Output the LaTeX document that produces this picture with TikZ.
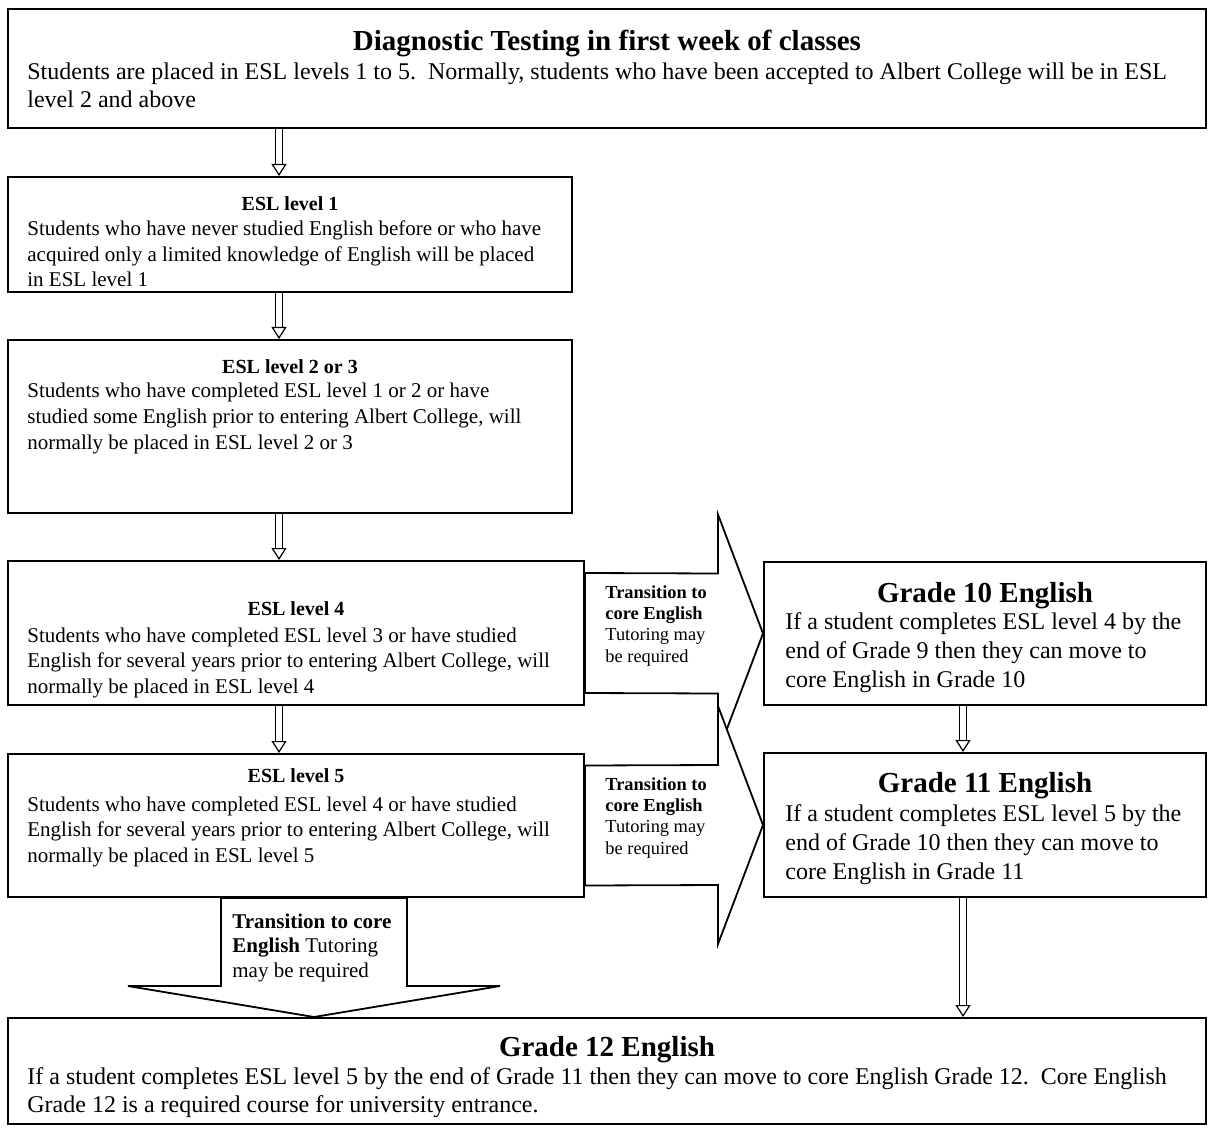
\documentclass[tikz,border=0pt]{standalone}
\usepackage{fontspec}
\setmainfont{Liberation Serif}
\usetikzlibrary{arrows.meta,calc,positioning}

\tikzset{
  box/.style={draw, line width=1pt, inner sep=0pt},
  ttl/.style={font=\fontsize{14.5}{17}\selectfont\bfseries, inner sep=0pt, anchor=base},
  ttlsm/.style={font=\fontsize{10}{12}\selectfont\bfseries, inner sep=0pt, anchor=base},
  txt/.style={font=\fontsize{12}{14}\selectfont, align=left, inner sep=0pt, anchor=base west},
  txtg/.style={font=\fontsize{12}{14.5}\selectfont, align=left, inner sep=0pt, anchor=base west},
  txtsm/.style={font=\fontsize{10.5}{12.75}\selectfont, align=left, inner sep=0pt, anchor=base west},
  lbl/.style={font=\fontsize{9.2}{10.65}\selectfont, align=left, inner sep=0pt, anchor=base west},
  lblbig/.style={font=\fontsize{10.5}{12.25}\selectfont, align=left, inner sep=0pt, anchor=base west},
  dbl/.style={double, double distance=2.6pt, line width=0.6pt, -{Triangle[open,length=6pt,width=7.5pt]}},
  blk/.style={draw, fill=white, line width=0.9pt, line join=miter},
}

\begin{document}
\begin{tikzpicture}[x=0.5pt,y=-0.5pt]
  \useasboundingbox (0,0) rectangle (1213,1133);
  % spines for the connectors
  \coordinate (spine) at (279,0);
  \coordinate (gspine) at (963,0);
  \coordinate (dn) at (314,0);

  % boxes
  \node[box, minimum width=599pt, minimum height=59.5pt] (top) at (607,68.5) {};
  \node[box, minimum width=282pt, minimum height=57.5pt] (esl1) at (290,234.5) {};
  \node[box, minimum width=282pt, minimum height=86.5pt] (esl23) at (290,426.5) {};
  \node[box, minimum width=288pt, minimum height=72pt] (esl4) at (296,633) {};
  \node[box, minimum width=288pt, minimum height=71.5pt] (esl5) at (296,825.5) {};
  \node[box, minimum width=221pt, minimum height=71.5pt] (g10) at (985,633.5) {};
  \node[box, minimum width=221pt, minimum height=72pt] (g11) at (985,825) {};
  \node[box, minimum width=599pt, minimum height=53pt] (g12) at (607,1071) {};

  % texts (multi-line ones sit on their last baseline)
  \node[ttl] (topT) at (607,51) {Diagnostic Testing in first week of classes};
  \node[txt] (topB) at (27,108) {Students are placed in ESL levels 1 to 5.\ \ Normally, students who have been accepted to Albert College will be in ESL\\level 2 and above};
  \node[ttlsm] (esl1T) at (290,211) {ESL level 1};
  \node[txtsm] (esl1B) at (27,287) {Students who have never studied English before or who have\\acquired only a limited knowledge of English will be placed\\in ESL level 1};
  \node[ttlsm] (esl23T) at (290,373) {ESL level 2 or 3};
  \node[txtsm] (esl23B) at (27,449) {Students who have completed ESL level 1 or 2 or have\\studied some English prior to entering Albert College, will\\normally be placed in ESL level 2 or 3};
  \node[ttlsm] (esl4T) at (296,615) {ESL level 4};
  \node[txtsm] (esl4B) at (27,693) {Students who have completed ESL level 3 or have studied\\English for several years prior to entering Albert College, will\\normally be placed in ESL level 4};
  \node[ttlsm] (esl5T) at (296,782) {ESL level 5};
  \node[txtsm] (esl5B) at (27,862) {Students who have completed ESL level 4 or have studied\\English for several years prior to entering Albert College, will\\normally be placed in ESL level 5};
  \node[ttl] (g10T) at (985,602) {Grade 10 English};
  \node[txtg] (g10B) at (785,687) {If a student completes ESL level 4 by the\\end of Grade 9 then they can move to\\core English in Grade 10};
  \node[ttl] (g11T) at (985,792) {Grade 11 English};
  \node[txtg] (g11B) at (785,879) {If a student completes ESL level 5 by the\\end of Grade 10 then they can move to\\core English in Grade 11};
  \node[ttl] (g12T) at (607,1056) {Grade 12 English};
  \node[txt] (g12B) at (27,1112) {If a student completes ESL level 5 by the end of Grade 11 then they can move to core English Grade 12.\ \ Core English\\Grade 12 is a required course for university entrance.};

  % hollow arrows down the two columns
  \draw[dbl] (top.south -| spine) -- (esl1.north -| spine);
  \draw[dbl] (esl1.south -| spine) -- (esl23.north -| spine);
  \draw[dbl] (esl23.south -| spine) -- (esl4.north -| spine);
  \draw[dbl] (esl4.south -| spine) -- (esl5.north -| spine);
  \draw[dbl] (g10.south -| gspine) -- (g11.north -| gspine);
  \draw[dbl] (g11.south -| gspine) -- (g12.north -| gspine);

  % block arrows
  \draw[blk] ($(esl4.east)+(0,-60)$) -- ($(g10.west)+(-45,-60)$) -- ($(g10.west)+(-45,-119)$)
     -- (g10.west) -- ($(g10.west)+(-45,119)$) -- ($(g10.west)+(-45,60)$) -- ($(esl4.east)+(0,60)$) -- cycle;
  \draw[blk] ($(esl5.east)+(0,-60)$) -- ($(g11.west)+(-45,-60)$) -- ($(g11.west)+(-45,-119)$)
     -- (g11.west) -- ($(g11.west)+(-45,119)$) -- ($(g11.west)+(-45,60)$) -- ($(esl5.east)+(0,60)$) -- cycle;
  \draw[blk] ($(esl5.south -| dn)+(-93,0)$) -- ($(g12.north -| dn)+(-93,-31)$) -- ($(g12.north -| dn)+(-186,-31)$)
     -- (g12.north -| dn) -- ($(g12.north -| dn)+(186,-31)$) -- ($(g12.north -| dn)+(93,-31)$) -- ($(esl5.south -| dn)+(93,0)$) -- cycle;

  \node[lbl] (tr1) at (605,662) {\textbf{Transition to}\\\textbf{core English}\\Tutoring may\\be required};
  \node[lbl] (tr2) at (605,854) {\textbf{Transition to}\\\textbf{core English}\\Tutoring may\\be required};
  \node[lblbig] (tr3) at (232,977) {\textbf{Transition to core}\\\textbf{English} Tutoring\\may be required};
\end{tikzpicture}
\end{document}
